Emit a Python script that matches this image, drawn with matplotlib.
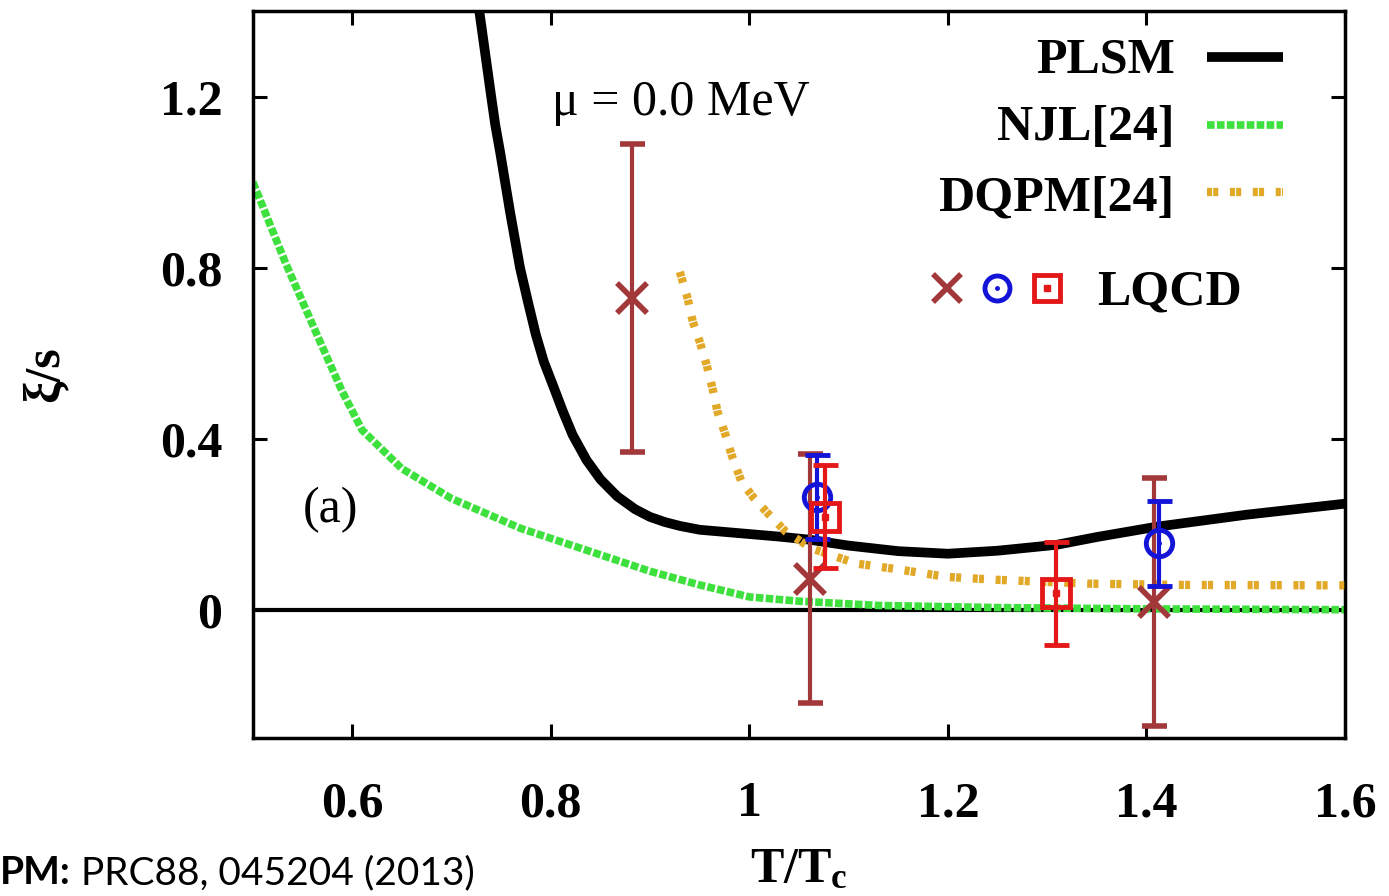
import matplotlib
matplotlib.use("Agg")
import matplotlib.pyplot as plt

plt.rcParams['font.family'] = ['Liberation Serif', 'DejaVu Serif']
plt.rcParams['mathtext.fontset'] = 'custom'
plt.rcParams['mathtext.rm'] = 'Liberation Serif'
plt.rcParams['mathtext.bf'] = 'Liberation Serif:bold'
plt.rcParams['mathtext.it'] = 'Liberation Serif:italic'

# --- curves ---
t_plsm = [0.728, 0.731, 0.734, 0.737, 0.74, 0.744, 0.749, 0.754, 0.759, 0.764, 0.769, 0.777,
          0.785, 0.793, 0.802, 0.812, 0.822, 0.836, 0.85, 0.867, 0.885, 0.9, 0.915, 0.93,
          0.95, 0.975, 1.0, 1.03, 1.06, 1.1, 1.15, 1.2, 1.25, 1.31, 1.35, 1.41, 1.5, 1.6]
xi_plsm = [1.40, 1.35, 1.30, 1.25, 1.20, 1.135, 1.07, 1.0, 0.93, 0.865, 0.80, 0.72,
           0.643, 0.58, 0.526, 0.465, 0.409, 0.35, 0.305, 0.265, 0.235, 0.217, 0.205, 0.196,
           0.187, 0.182, 0.177, 0.171, 0.164, 0.15, 0.137, 0.131, 0.138, 0.152, 0.17,
           0.194, 0.222, 0.248]

t_njl = [0.5, 0.533, 0.567, 0.59, 0.61, 0.65, 0.70, 0.77, 0.835, 0.9, 0.95, 1.0, 1.05,
         1.13, 1.25, 1.4, 1.6]
xi_njl = [1.0, 0.81, 0.63, 0.51, 0.42, 0.33, 0.26, 0.19, 0.14, 0.09, 0.058, 0.03, 0.02,
          0.01, 0.005, 0.002, 0.0]

t_dqpm = [0.93, 0.938, 0.943, 0.95, 0.957, 0.963, 0.968, 0.975, 0.982, 0.992, 1.005, 1.02,
          1.037, 1.063, 1.108, 1.151, 1.198, 1.249, 1.342, 1.436, 1.6]
xi_dqpm = [0.79, 0.727, 0.674, 0.627, 0.573, 0.517, 0.463, 0.416, 0.363, 0.30, 0.26, 0.222,
           0.182, 0.143, 0.108, 0.094, 0.077, 0.07, 0.061, 0.058, 0.057]

# lattice points
t_lq1 = [0.882, 1.061, 1.408]
xi_lq1 = [0.728, 0.073, 0.019]
err_lq1 = [0.36, 0.29, 0.29]

t_lq2 = [1.068, 1.413]
xi_lq2 = [0.264, 0.155]
err_lq2 = [0.098, 0.10]

t_lq3 = [1.076, 1.309]
xi_lq3 = [0.218, 0.038]
err_lq3 = [0.12, 0.12]

x_ticks = [0.6, 0.8, 1.0, 1.2, 1.4, 1.6]
x_ticklabels = ["0.6", "0.8", "1", "1.2", "1.4", "1.6"]
y_ticks = [0, 0.4, 0.8, 1.2]
y_ticklabels = ["0", "0.4", "0.8", "1.2"]

c_green = '#3ee03e'
c_gold = '#e2a828'
c_brown = '#a3383a'
c_blue = '#1414d8'
c_red = '#e41818'

fig = plt.figure(figsize=(13.89, 8.96), dpi=100)
ax = fig.add_axes([0.1821, 0.1763, 0.7862, 0.8114])

ax.axhline(0, color='black', lw=3, zorder=1)
ax.plot(t_njl, xi_njl, color=c_green, lw=5.5, dashes=(1.0, 0.3), zorder=2)
ax.plot(t_plsm, xi_plsm, color='black', lw=7, solid_joinstyle='round', zorder=3)
ax.plot(t_dqpm, xi_dqpm, color=c_gold, lw=6, dashes=(0.6, 0.15, 0.6, 1.4), zorder=4)

ax.errorbar(t_lq1, xi_lq1, yerr=err_lq1, fmt='x', color=c_brown, ms=22, mew=4,
            elinewidth=3, capsize=9, capthick=3, zorder=5)
ax.errorbar(t_lq2, xi_lq2, yerr=err_lq2, fmt='o', color=c_blue, mfc='none', ms=19, mew=3.5,
            elinewidth=3, capsize=9, capthick=3, zorder=6)
ax.plot(t_lq2, xi_lq2, '.', color=c_blue, ms=5, zorder=6)
ax.errorbar(t_lq3, xi_lq3, yerr=err_lq3, fmt='s', color=c_red, mfc='none', ms=20, mew=3.5,
            elinewidth=3, capsize=9, capthick=3, zorder=7)
ax.plot(t_lq3, xi_lq3, 's', color=c_red, ms=4, zorder=7)

ax.set_xlim(0.5, 1.6)
ax.set_ylim(-0.3, 1.4)
ax.set_xticks(x_ticks)
ax.set_xticklabels(x_ticklabels)
ax.set_yticks(y_ticks)
ax.set_yticklabels(y_ticklabels)
ax.tick_params(direction='in', length=10, width=2.2, top=True, right=True, labelsize=36)
ax.tick_params(axis='x', pad=31)
ax.tick_params(axis='y', pad=22)
for lab in ax.get_xticklabels() + ax.get_yticklabels():
    lab.set_fontweight('bold')
for sp in ax.spines.values():
    sp.set_linewidth(2.5)

ax.set_xlabel(r'$\mathbf{T/T_c}$', fontsize=36)
ax.xaxis.set_label_coords(0.5, -0.15)
ax.set_ylabel('ξ/s', fontsize=36, fontweight='bold')
ax.yaxis.set_label_coords(-0.169, 0.5)

ax.text(0.274, 0.857, 'μ = 0.0 MeV', transform=ax.transAxes, fontsize=36, va='baseline')
ax.text(0.046, 0.314, '(a)', transform=ax.transAxes, fontsize=36, va='center')

# legend, gnuplot style: label right aligned, sample to the right
tr = ax.transAxes
ax.text(0.844, 0.915, 'PLSM', transform=tr, fontsize=36, fontweight='bold', ha='right', va='baseline')
ax.text(0.844, 0.823, 'NJL[24]', transform=tr, fontsize=36, fontweight='bold', ha='right', va='baseline')
ax.text(0.844, 0.726, 'DQPM[24]', transform=tr, fontsize=36, fontweight='bold', ha='right', va='baseline')
ax.plot([0.874, 0.943], [0.937, 0.937], transform=tr, color='black', lw=7, solid_capstyle='butt')
ax.plot([0.874, 0.943], [0.843, 0.843], transform=tr, color=c_green, lw=5.5, dashes=(1.0, 0.3))
ax.plot([0.874, 0.943], [0.751, 0.751], transform=tr, color=c_gold, lw=6,
        dashes=(0.6, 0.15, 0.6, 1.4))
ax.plot([0.636], [0.619], 'x', transform=tr, color=c_brown, ms=20, mew=4)
ax.plot([0.681], [0.619], 'o', transform=tr, color=c_blue, mfc='none', ms=18, mew=3.5)
ax.plot([0.681], [0.619], '.', transform=tr, color=c_blue, ms=5)
ax.plot([0.727], [0.619], 's', transform=tr, color=c_red, mfc='none', ms=19, mew=3.5)
ax.plot([0.727], [0.619], 's', transform=tr, color=c_red, ms=4)
ax.text(0.773, 0.596, 'LQCD', transform=tr, fontsize=36, fontweight='bold', ha='left', va='baseline')

# slide caption at the lower left
fig.text(0.0, 0.013, 'PM:', family='Lato', fontweight='bold', fontsize=28, ha='left', va='baseline')
fig.text(0.058, 0.013, 'PRC88, 045204 (2013)', family='Lato', fontsize=28, ha='left', va='baseline')

fig.savefig('out.png', dpi=100)
